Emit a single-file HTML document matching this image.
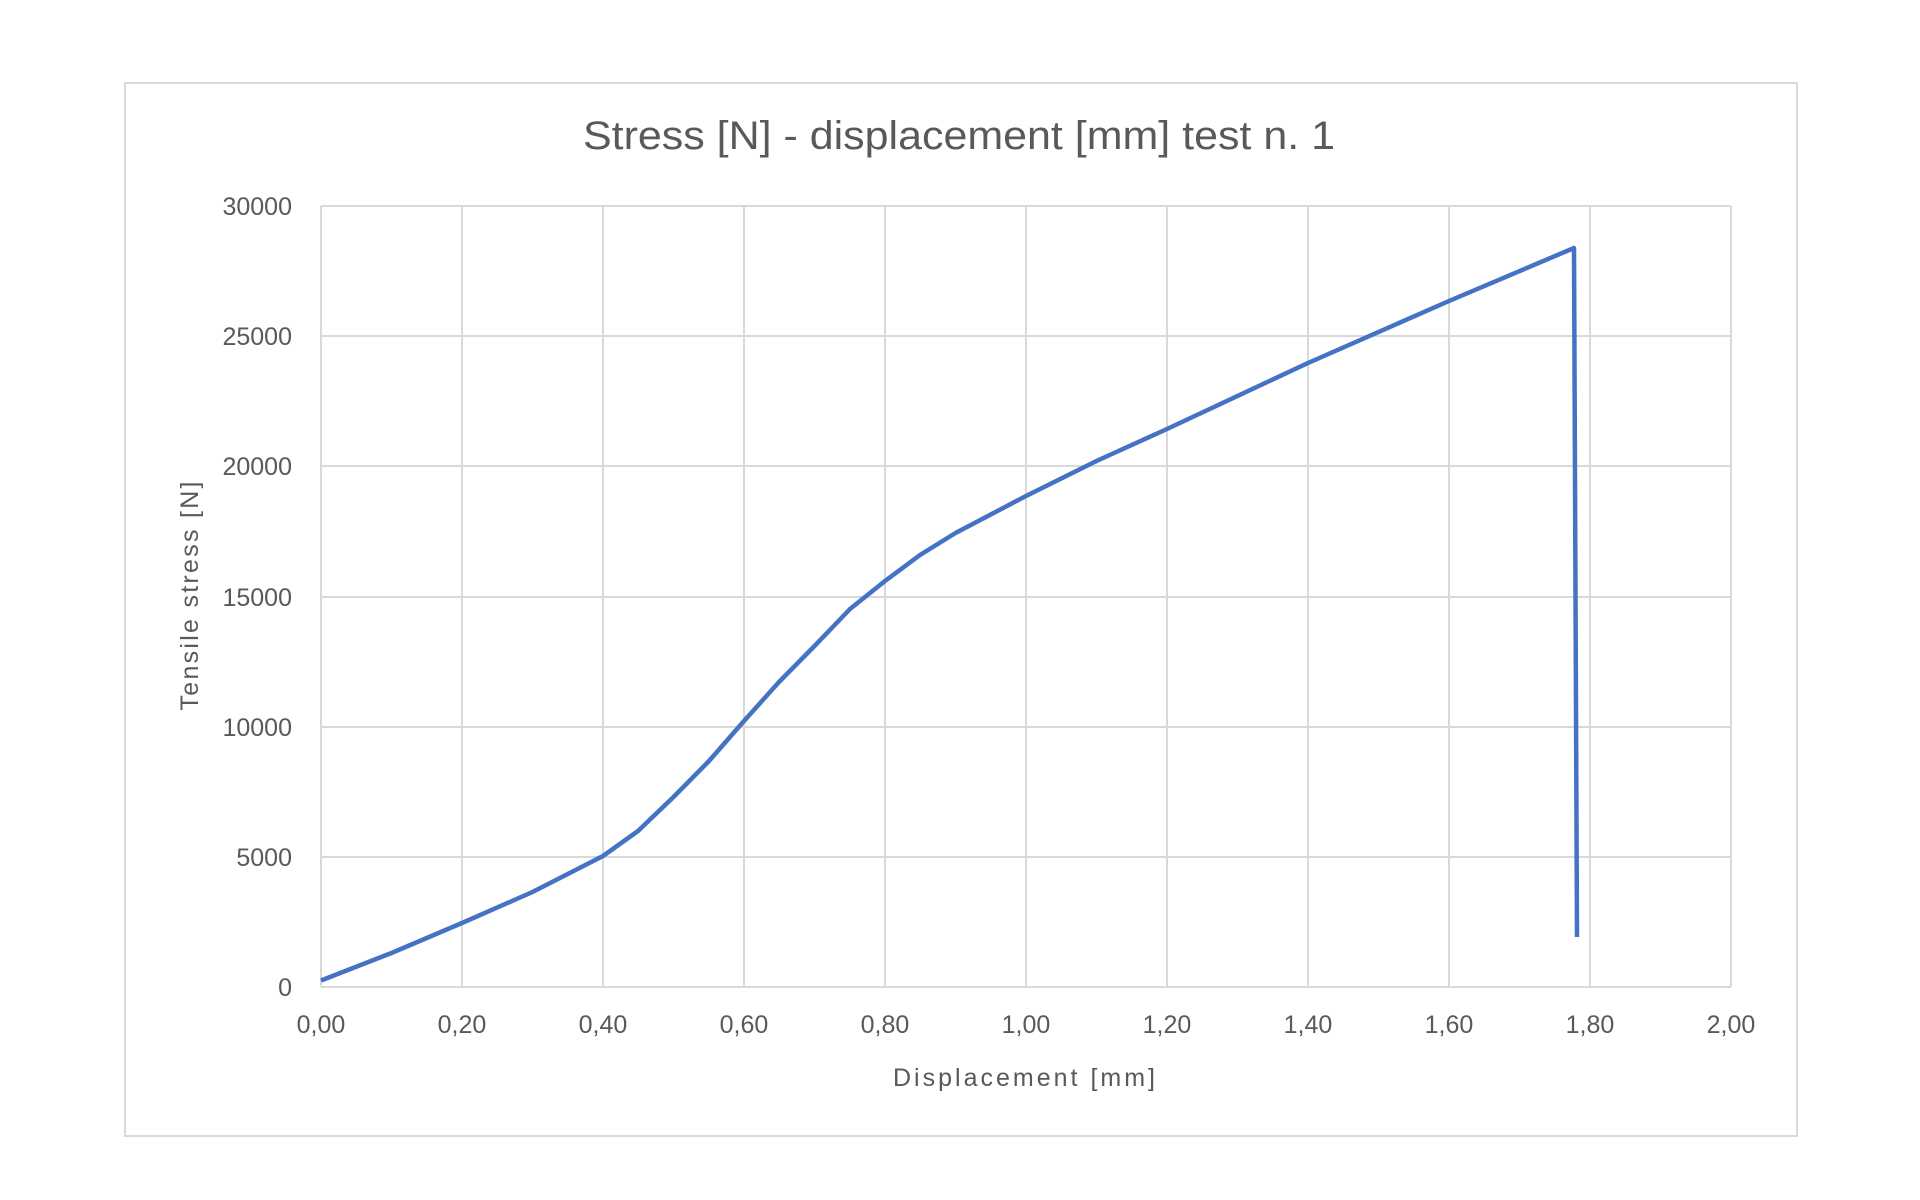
<!DOCTYPE html>
<html><head><meta charset="utf-8"><style>
body{margin:0;background:#fff;}
svg{display:block;font-family:"Liberation Sans",sans-serif;}
</style></head><body>
<svg width="1920" height="1200" viewBox="0 0 1920 1200">
<rect x="0" y="0" width="1920" height="1200" fill="#fff"/>
<rect x="125" y="83" width="1672" height="1053" fill="#fff" stroke="#d9d9d9" stroke-width="2"/>
<text x="959" y="149" text-anchor="middle" font-size="40" fill="#595959" textLength="752" lengthAdjust="spacingAndGlyphs">Stress [N] - displacement [mm] test n. 1</text>
<g stroke="#d9d9d9" stroke-width="2">
<line x1="321" y1="987" x2="1731" y2="987"/>
<line x1="321" y1="857" x2="1731" y2="857"/>
<line x1="321" y1="727" x2="1731" y2="727"/>
<line x1="321" y1="597" x2="1731" y2="597"/>
<line x1="321" y1="466" x2="1731" y2="466"/>
<line x1="321" y1="336" x2="1731" y2="336"/>
<line x1="321" y1="206" x2="1731" y2="206"/>
<line x1="321" y1="206" x2="321" y2="987"/>
<line x1="462" y1="206" x2="462" y2="987"/>
<line x1="603" y1="206" x2="603" y2="987"/>
<line x1="744" y1="206" x2="744" y2="987"/>
<line x1="885" y1="206" x2="885" y2="987"/>
<line x1="1026" y1="206" x2="1026" y2="987"/>
<line x1="1167" y1="206" x2="1167" y2="987"/>
<line x1="1308" y1="206" x2="1308" y2="987"/>
<line x1="1449" y1="206" x2="1449" y2="987"/>
<line x1="1590" y1="206" x2="1590" y2="987"/>
<line x1="1731" y1="206" x2="1731" y2="987"/>
</g>
<g font-size="25" fill="#595959" text-anchor="end">
<text x="292" y="996">0</text>
<text x="292" y="866">5000</text>
<text x="292" y="736">10000</text>
<text x="292" y="606">15000</text>
<text x="292" y="475">20000</text>
<text x="292" y="345">25000</text>
<text x="292" y="215">30000</text>
</g>
<g font-size="25" fill="#595959" text-anchor="middle">
<text x="321" y="1033">0,00</text>
<text x="462" y="1033">0,20</text>
<text x="603" y="1033">0,40</text>
<text x="744" y="1033">0,60</text>
<text x="885" y="1033">0,80</text>
<text x="1026" y="1033">1,00</text>
<text x="1167" y="1033">1,20</text>
<text x="1308" y="1033">1,40</text>
<text x="1449" y="1033">1,60</text>
<text x="1590" y="1033">1,80</text>
<text x="1731" y="1033">2,00</text>
<text x="1024" y="1086" textLength="262" lengthAdjust="spacing">Displacement [mm]</text>
<text transform="translate(198,596) rotate(-90)" textLength="229" lengthAdjust="spacing">Tensile stress [N]</text>
</g>
<polyline fill="none" stroke="#4472C4" stroke-width="4.5" stroke-linejoin="round" points="
321,980.5 391.5,953 462,923 532.5,892 603,856 638,831 673.5,797 709,761 744,721 779,682 814.5,646 850,609 885,581 920,555 955.5,533 1026,496 1096.5,461 1167,429 1308,363 1449,301 1574,248 1577,937"/>
</svg>
</body></html>
